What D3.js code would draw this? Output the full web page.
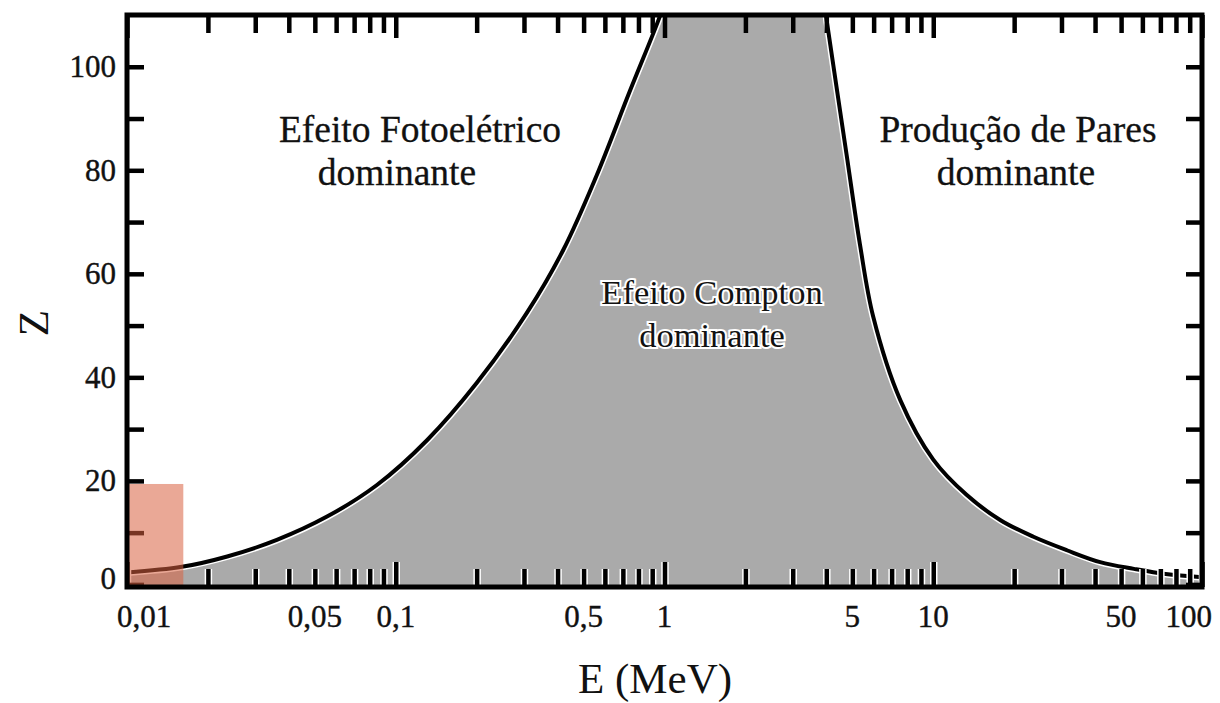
<!DOCTYPE html>
<html>
<head>
<meta charset="utf-8">
<script src="https://cdn.jsdelivr.net/npm/d3@7"></script>
<style>
  body { margin: 0; background: #fff; }
  svg text { font-family: "Liberation Serif", "Times New Roman", serif; fill: #111; }
</style>
</head>
<body>
<svg id="chart" width="1220" height="703"></svg>
<script>
// boundary photoelectric / Compton (E in MeV, Z)
const photoE = [0.01, 0.016, 0.0236, 0.0361, 0.0555, 0.0851, 0.131, 0.2, 0.307, 0.42, 0.557, 0.742, 0.951, 1.03];
const photoZ = [2.3, 3.4, 5.4, 8.6, 13.1, 19.2, 27.9, 38.9, 52.4, 64.6, 78.8, 95.2, 109.1, 114.3];

// boundary Compton / pair production
const pairE = [3.855, 4.01, 4.76, 5.34, 5.98, 7.54, 10, 13.3, 17.8, 23.6, 31.4, 41.8, 55.8, 73.2, 100];
const pairZ = [115.5, 109.1, 83, 65.6, 51.7, 35.6, 24.1, 17.3, 12.4, 9.2, 6.6, 4.3, 3.0, 2.0, 1.4];

const xTickValues = [0.01, 0.05, 0.1, 0.5, 1, 5, 10, 50, 100];
const xTickLabels = ["0,01", "0,05", "0,1", "0,5", "1", "5", "10", "50", "100"];
const yTickValues = [0, 20, 40, 60, 80, 100];
const yTickLabels = ["0", "20", "40", "60", "80", "100"];

// highlighted corner box: [E min, E max, Z max]
const highlight = [0.01, 0.0162, 19.4];

const svg = d3.select("#chart");
const plotLeft = 127, plotRight = 1202, plotTop = 15, plotBottom = 587;

const xScale = d3.scaleLog().domain([0.01, 100]).range([plotLeft, plotRight]);
const yScale = d3.scaleLinear().domain([-0.5, 110]).range([plotBottom, plotTop]);

svg.append("defs").append("clipPath").attr("id", "plotClip")
  .append("rect")
  .attr("x", plotLeft).attr("y", plotTop)
  .attr("width", plotRight - plotLeft).attr("height", plotBottom - plotTop);

const photo = photoE.map((e, i) => [e, photoZ[i]]);
const pair = pairE.map((e, i) => [e, pairZ[i]]);

const line = d3.line()
  .x(d => xScale(d[0]))
  .y(d => yScale(d[1]))
  .curve(d3.curveCatmullRom.alpha(0.5));

const plot = svg.append("g").attr("clip-path", "url(#plotClip)");

// Compton region fill
const fillPath = line(photo) + "L" + line(pair).slice(1) +
  `L${xScale(100)},${yScale(-0.5)}L${xScale(0.01)},${yScale(-0.5)}Z`;
plot.append("path")
  .attr("d", fillPath)
  .attr("fill", "#aaaaaa");

// boundary curves, white halo then black line
[photo, pair].forEach(c => {
  plot.append("path").attr("d", line(c))
    .attr("fill", "none").attr("stroke", "#fff").attr("stroke-width", 7);
  plot.append("path").attr("d", line(c))
    .attr("fill", "none").attr("stroke", "#000").attr("stroke-width", 4);
});

// ticks
const allE = xScale.ticks();
const majorE = allE.filter(v => Math.abs(Math.log10(v) - Math.round(Math.log10(v))) < 1e-9);
const minorE = allE.filter(v => !majorE.includes(v));
const yTicks = d3.range(0, 101, 10);

const drawAxis = (axis, transform, stroke, width) => {
  const g = svg.append("g").attr("transform", transform).call(axis);
  g.select(".domain").remove();
  g.selectAll("text").remove();
  g.selectAll("line").attr("stroke", stroke).attr("stroke-width", width);
  return g;
};

// bottom ticks (halo over the grey)
[["#fff", 7.5], ["#000", 4.5]].forEach(([s, w]) => {
  drawAxis(d3.axisBottom(xScale).tickValues(minorE).tickSize(-18), `translate(0,${plotBottom})`, s, w);
  drawAxis(d3.axisBottom(xScale).tickValues(majorE).tickSize(-25), `translate(0,${plotBottom})`, s, w);
});
// top ticks
drawAxis(d3.axisTop(xScale).tickValues(minorE).tickSize(-18), `translate(0,${plotTop})`, "#000", 4.5);
drawAxis(d3.axisTop(xScale).tickValues(majorE).tickSize(-23), `translate(0,${plotTop})`, "#000", 4.5);
// left / right ticks
drawAxis(d3.axisLeft(yScale).tickValues(yTicks).tickSize(-17), `translate(${plotLeft},0)`, "#000", 4.5);
drawAxis(d3.axisRight(yScale).tickValues(yTicks).tickSize(-16), `translate(${plotRight},0)`, "#000", 4.5);

// highlight box over corner
svg.append("rect")
  .attr("x", xScale(highlight[0]) + 1)
  .attr("y", yScale(highlight[2]))
  .attr("width", xScale(highlight[1]) - xScale(highlight[0]) - 1)
  .attr("height", yScale(-0.5) - yScale(highlight[2]))
  .attr("fill", "#d9603f")
  .attr("opacity", 0.55);

// frame
svg.append("rect")
  .attr("x", plotLeft).attr("y", plotTop)
  .attr("width", plotRight - plotLeft).attr("height", plotBottom - plotTop)
  .attr("fill", "none").attr("stroke", "#000").attr("stroke-width", 5);

// tick labels
svg.append("g").selectAll("text")
  .data(xTickValues)
  .join("text")
  .attr("x", (d, i) => i === 0 ? xScale(d) - 10 : i === xTickValues.length - 1 ? xScale(d) + 10 : xScale(d))
  .attr("y", 627)
  .attr("text-anchor", (d, i) => i === 0 ? "start" : i === xTickValues.length - 1 ? "end" : "middle")
  .attr("font-size", 31)
  .attr("stroke", "#111").attr("stroke-width", 0.4)
  .text((d, i) => xTickLabels[i]);

svg.append("g").selectAll("text")
  .data(yTickValues)
  .join("text")
  .attr("x", 116)
  .attr("y", d => d === 0 ? yScale(d) - 6 : yScale(d))
  .attr("dy", "0.33em")
  .attr("text-anchor", "end")
  .attr("font-size", 31)
  .attr("stroke", "#111").attr("stroke-width", 0.4)
  .text((d, i) => yTickLabels[i]);

// axis titles
svg.append("text")
  .attr("x", 655).attr("y", 693)
  .attr("text-anchor", "middle")
  .attr("font-size", 43)
  .text("E (MeV)");

svg.append("text")
  .attr("transform", "translate(48,323) rotate(-90)")
  .attr("text-anchor", "middle")
  .attr("font-size", 43)
  .text("Z");

// region labels
const region = (x, y, size, txt, halo) => {
  const t = svg.append("text")
    .attr("x", x).attr("y", y)
    .attr("text-anchor", "middle")
    .attr("font-size", size)
    .text(txt);
  if (halo) t.attr("stroke", "#fff").attr("stroke-width", 4).attr("paint-order", "stroke");
  else t.attr("stroke", "#111").attr("stroke-width", 0.3);
};
region(420, 142, 37.5, "Efeito Fotoelétrico");
region(397, 185, 37.5, "dominante");
region(1018, 142, 37.5, "Produção de Pares");
region(1016, 185, 37.5, "dominante");
region(712, 304, 34.5, "Efeito Compton", true);
region(712, 347, 34.5, "dominante", true);
</script>
</body>
</html>
